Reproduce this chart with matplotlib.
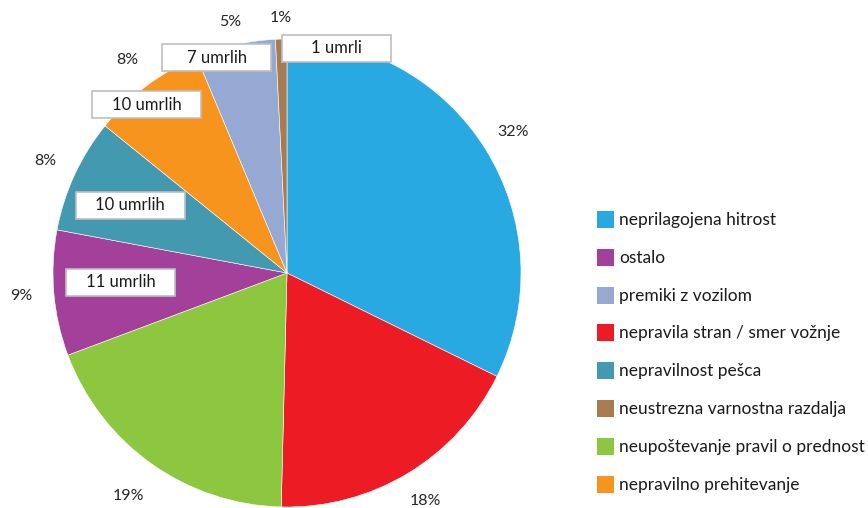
import matplotlib
matplotlib.use("Agg")
import matplotlib.pyplot as plt
import numpy as np
from matplotlib.patches import Rectangle

plt.rcParams['font.family'] = ['Lato', 'DejaVu Sans']

# wedges, clockwise from 12 o'clock
causes = ["neprilagojena hitrost", "nepravila stran / smer vožnje",
          "neupoštevanje pravil o prednost", "ostalo", "nepravilnost pešca",
          "nepravilno prehitevanje", "premiki z vozilom",
          "neustrezna varnostna razdalja"]
deaths = [41, 23, 24, 11, 10, 10, 7, 1]
pct_labels = ["32%", "18%", "19%", "9%", "8%", "8%", "5%", "1%"]
colors = ["#29A9E1", "#ED1C24", "#8DC63F", "#A3419A", "#4299B0",
          "#F7941E", "#95A9D2", "#A87B50"]
label_dist = [1.14, 1.14, 1.17, 1.14, 1.14, 1.14, 1.10, 1.09]

# boxed death counts (only for the small wedges)
box_labels = {"ostalo": "11 umrlih", "nepravilnost pešca": "10 umrlih",
              "nepravilno prehitevanje": "10 umrlih",
              "premiki z vozilom": "7 umrlih",
              "neustrezna varnostna razdalja": "1 umrli"}
box_pos = {"ostalo": (-0.71, -0.04), "nepravilnost pešca": (-0.67, 0.29),
           "nepravilno prehitevanje": (-0.60, 0.72),
           "premiki z vozilom": (-0.30, 0.92),
           "neustrezna varnostna razdalja": (0.21, 0.96)}

legend_order = ["neprilagojena hitrost", "ostalo", "premiki z vozilom",
                "nepravila stran / smer vožnje", "nepravilnost pešca",
                "neustrezna varnostna razdalja",
                "neupoštevanje pravil o prednost", "nepravilno prehitevanje"]

W, H = 868, 508
cx, cy, R = 287, 273, 234   # pie centre / radius in pixels

fig = plt.figure(figsize=(W / 100, H / 100), dpi=100)
ax = fig.add_axes([0, 0, 1, 1])

wedges, texts = ax.pie(deaths, colors=colors, startangle=90, counterclock=False,
                       labels=pct_labels, labeldistance=1.14, radius=1,
                       wedgeprops=dict(edgecolor="white", linewidth=0.4),
                       textprops=dict(fontsize=11.5, color="#262626"))
for t, w, d in zip(texts, wedges, label_dist):
    a = np.deg2rad((w.theta1 + w.theta2) / 2)
    t.set_position((d * np.cos(a), d * np.sin(a)))
    t.set_horizontalalignment("center")
    t.set_verticalalignment("center")
ax.set_aspect("auto")
ax.set_xlim(-cx / R, (W - cx) / R)
ax.set_ylim(-(H - cy) / R, cy / R)
ax.axis("off")

bw, bh = 109 / R, 27 / R
for name, lab in box_labels.items():
    x, y = box_pos[name]
    ax.add_patch(Rectangle((x - bw / 2, y - bh / 2), bw, bh, facecolor="white",
                           edgecolor="#BFBFBF", linewidth=1.2, zorder=3))
    ax.text(x, y, lab, ha="center", va="center", fontsize=12,
            color="#1a1a1a", zorder=4)

# legend, drawn by hand
for i, name in enumerate(legend_order):
    ytop = 211 + i * 37.8
    col = colors[causes.index(name)]
    fig.patches.append(Rectangle((597 / W, 1 - (ytop + 17) / H), 17 / W, 17 / H,
                                 facecolor=col, edgecolor="none",
                                 transform=fig.transFigure, figure=fig))
    fig.text(619 / W, 1 - (ytop + 9) / H, name, ha="left", va="center",
             fontsize=12.5, color="#1a1a1a")

fig.savefig("out.png", dpi=100)
